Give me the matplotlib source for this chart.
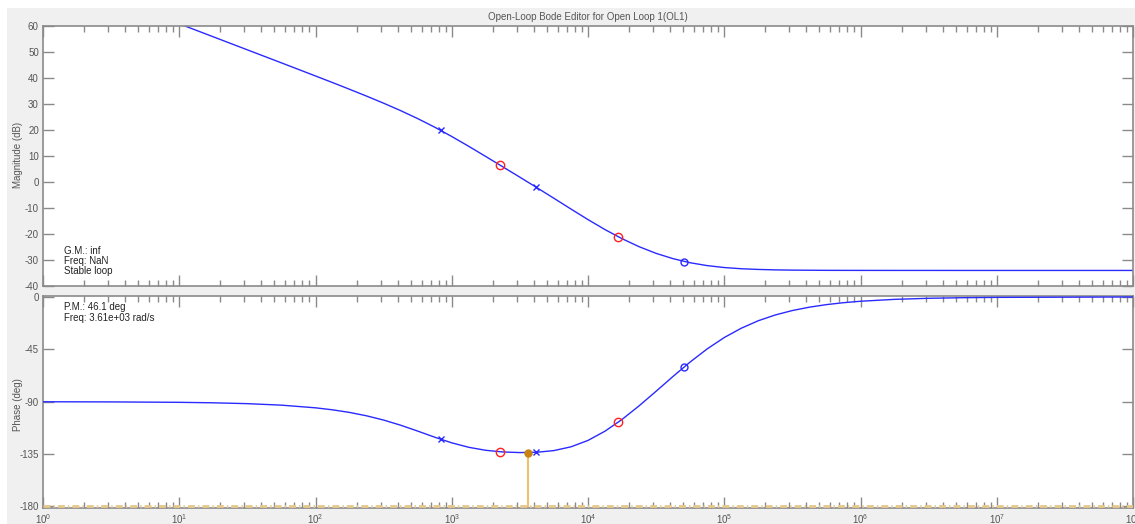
import matplotlib
matplotlib.use("Agg")
import matplotlib.pyplot as plt
from matplotlib.patches import Rectangle
from matplotlib.ticker import LogLocator, NullFormatter, FixedLocator

plt.rcParams['font.family'] = ['Liberation Sans', 'DejaVu Sans']
plt.rcParams['mathtext.default'] = 'regular'

# ---- data ----
freq = [1, 3.162, 10, 17.78, 31.62, 56.23, 100, 133.4, 177.8, 237.1, 316.2, 421.7,
        562.3, 749.9, 1000, 1334, 1778, 2371, 3162, 4217, 5623, 7499, 10000, 13335,
        17783, 23714, 31623, 42170, 56234, 74989, 1e5, 1.334e5, 1.778e5, 2.371e5,
        3.162e5, 4.217e5, 5.623e5, 7.499e5, 1e6, 1.778e6, 3.162e6, 5.623e6, 1e7, 1e8]
mag_db = [80.84, 70.84, 60.84, 55.84, 50.83, 45.82, 40.78, 38.24, 35.66, 33.03,
          30.31, 27.45, 24.39, 21.08, 17.50, 13.71, 9.80, 5.83, 1.85, -2.18, -6.27,
          -10.40, -14.46, -18.31, -21.81, -24.88, -27.45, -29.50, -31.06, -32.16,
          -32.90, -33.36, -33.63, -33.80, -33.89, -33.94, -33.98, -33.99, -34.00,
          -34.01, -34.01, -34.02, -34.02, -34.02]
phase_deg = [-90.05, -90.17, -90.53, -90.94, -91.67, -92.96, -95.25, -96.97, -99.21,
             -102.12, -105.77, -110.19, -115.23, -120.48, -125.33, -129.17, -131.75,
             -133.16, -133.69, -133.43, -131.97, -128.75, -123.25, -115.30, -105.21,
             -93.55, -80.99, -68.20, -55.88, -44.62, -34.88, -26.86, -20.44, -15.48,
             -11.68, -8.79, -6.60, -4.95, -3.71, -2.08, -1.17, -0.66, -0.38, -0.04]

pole_freq = [830, 4150]
pole_mag = [19.9, -1.95]
pole_phase = [-122.3, -133.5]

comp_zero_freq = [2250, 16600]
comp_zero_mag = [6.6, -21.0]
comp_zero_phase = [-133.0, -107.8]

plant_zero_freq = [51000]
plant_zero_mag = [-30.6]
plant_zero_phase = [-60.0]

pm_freq = 3610
pm_phase = -133.9
pm_ref = -180

mag_ticks = [60, 50, 40, 30, 20, 10, 0, -10, -20, -30, -40]
phase_ticks = [0, -45, -90, -135, -180]
freq_ticks = [1, 10, 100, 1e3, 1e4, 1e5, 1e6, 1e7, 1e8]
freq_tick_labels = ['$10^{%d}$' % i for i in range(9)]

title = 'Open-Loop Bode Editor for Open Loop 1(OL1)'
gm_lines = ['G.M.: inf', 'Freq: NaN', 'Stable loop']
pm_lines = ['P.M.: 46.1 deg', 'Freq: 3.61e+03 rad/s']

# ---- figure ----
W, H = 1135, 524
fig = plt.figure(figsize=(W / 100, H / 100), dpi=100, facecolor='white')
fig.patches.append(Rectangle((7 / W, 0), 1, 1 - 8 / H, transform=fig.transFigure,
                             facecolor='#f0f0f0', edgecolor='none', zorder=-10))


def fx(px):
    return px / W


def fy(py):
    return 1 - py / H


ax1 = fig.add_axes([fx(43), fy(286), (1133 - 43) / W, (286 - 26) / H])
ax2 = fig.add_axes([fx(43), fy(508), (1133 - 43) / W, (508 - 296) / H])

blue = '#2a2aff'
spine_c = '#8a8a8a'
label_c = '#555555'

for ax in (ax1, ax2):
    ax.set_facecolor('white')
    ax.set_xscale('log')
    ax.set_xlim(1, 1e8)
    ax.xaxis.set_major_locator(FixedLocator(freq_ticks))
    ax.xaxis.set_minor_locator(LogLocator(base=10, subs=range(2, 10), numticks=100))
    ax.xaxis.set_minor_formatter(NullFormatter())
    for s in ax.spines.values():
        s.set_color(spine_c)
        s.set_linewidth(1.2)
    ax.tick_params(which='major', direction='in', length=8, width=1, color=spine_c,
                   top=True, right=True, labelsize=7, labelcolor=label_c, pad=3)
    ax.tick_params(which='minor', direction='in', length=4, width=1, color=spine_c,
                   top=True, right=True)

# magnitude
ax1.plot(freq, mag_db, color=blue, lw=1)
ax1.plot(pole_freq, pole_mag, 'x', color=blue, ms=4, mew=1)
ax1.plot(comp_zero_freq, comp_zero_mag, 'o', mfc='none', mec='#ff2020', ms=6, mew=1)
ax1.plot(plant_zero_freq, plant_zero_mag, 'o', mfc='none', mec=blue, ms=5, mew=1)
ax1.set_ylim(-40, 60)
ax1.set_yticks(mag_ticks)
ax1.set_yticklabels([str(t) for t in mag_ticks])
ax1.tick_params(axis='x', labelbottom=False)

# phase
ax2.axhline(pm_ref, color='#e8c88a', lw=2, dashes=(2.5, 1.1, 0.5, 1.1), zorder=3)
ax2.plot([pm_freq, pm_freq], [pm_ref, pm_phase], color='#f0c070', lw=1.5, zorder=3)
ax2.plot(freq, phase_deg, color=blue, lw=1, zorder=3)
ax2.plot(pole_freq, pole_phase, 'x', color=blue, ms=4, mew=1, zorder=4)
ax2.plot(comp_zero_freq, comp_zero_phase, 'o', mfc='none', mec='#ff2020', ms=6, mew=1, zorder=4)
ax2.plot(plant_zero_freq, plant_zero_phase, 'o', mfc='none', mec=blue, ms=5, mew=1, zorder=4)
ax2.plot([pm_freq], [pm_phase], 'o', color='#c88210', ms=5, zorder=5)
ax2.set_ylim(-181.3, 0.8)
ax2.set_yticks(phase_ticks)
ax2.set_yticklabels([str(t) for t in phase_ticks])
ax2.set_xticklabels(freq_tick_labels)

# labels and text
fig.text(fx(588), fy(17), title, ha='center', va='center', fontsize=7, color=label_c)
fig.text(fx(18), fy(155), 'Magnitude (dB)', rotation=90, ha='center', va='center',
         fontsize=7, color=label_c)
fig.text(fx(18), fy(405), 'Phase (deg)', rotation=90, ha='center', va='center',
         fontsize=7, color=label_c)
for i, s in enumerate(gm_lines):
    fig.text(fx(64), fy(250.5 + 10.3 * i), s, ha='left', va='center', fontsize=7, color='#222222')
for i, s in enumerate(pm_lines):
    fig.text(fx(64), fy(307.5 + 10.3 * i), s, ha='left', va='center', fontsize=7, color='#222222')

fig.savefig('out.png', dpi=100, facecolor=fig.get_facecolor())
